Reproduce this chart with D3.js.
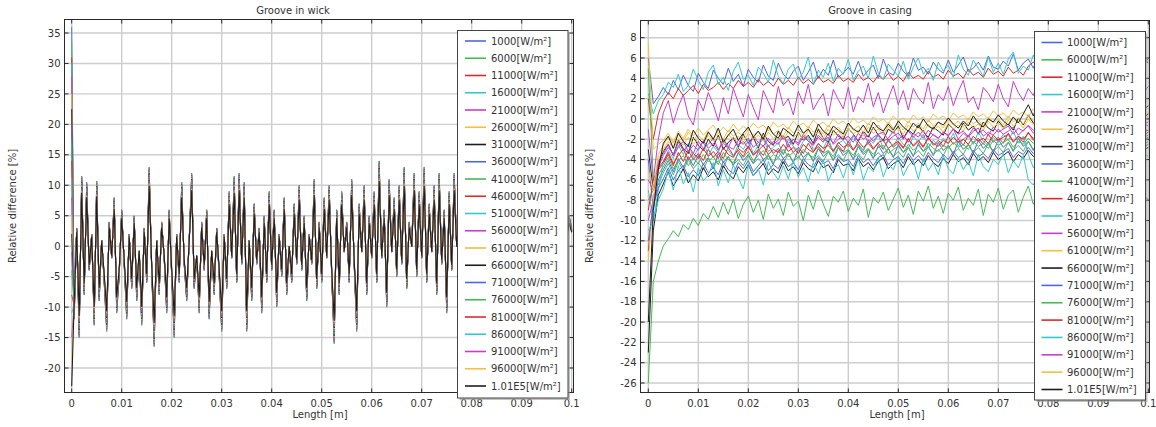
<!DOCTYPE html>
<html><head><meta charset="utf-8">
<script src="https://cdn.jsdelivr.net/npm/d3@7"></script>
<style>
body{margin:0;background:#fff;}
svg{display:block;font-family:"DejaVu Sans",sans-serif;}
</style></head><body>
<svg id="chart" width="1156" height="427"></svg>
<script>
// ---------- data ----------
const seriesLabels = ["1000[W/m²]","6000[W/m²]","11000[W/m²]","16000[W/m²]","21000[W/m²]","26000[W/m²]","31000[W/m²]","36000[W/m²]","41000[W/m²]","46000[W/m²]","51000[W/m²]","56000[W/m²]","61000[W/m²]","66000[W/m²]","71000[W/m²]","76000[W/m²]","81000[W/m²]","86000[W/m²]","91000[W/m²]","96000[W/m²]","1.01E5[W/m²]"];
const lengthTicks = [0,0.01,0.02,0.03,0.04,0.05,0.06,0.07,0.08,0.09,0.1];
const wickYTicks = [-20,-15,-10,-5,0,5,10,15,20,25,30,35];
const casingYTicks = [-26,-24,-22,-20,-18,-16,-14,-12,-10,-8,-6,-4,-2,0,2,4,6,8];

// Groove in wick: value at x=0 per series, spike profile (1000 W/m²) and per-series amplitude
const wickStart = [36,33.5,31,30,28,25,22.5,20,17,14,11,8,5,2,-1,-4,-8,-11,-15,-19,-23];
const wickFactor = [1.0,0.99,0.97,0.96,0.95,0.93,0.92,0.91,0.9,0.88,0.87,0.86,0.85,0.84,0.83,0.82,0.81,0.8,0.79,0.78,0.76];
const wickProfile = [
-12,3,-15,11.5,-8,10.5,-4,2,-13,10.7,
-9,1,-6,-14,4,-2,8,-11,-5,6,
-3,-12,2,-7,5,-9,-1,-13,3,-6,
13,-4,-16.5,1,-8,4,-2,-11,6,-5,
-15,2,-6,10.5,-3,-9,1,12,-7,-2,
-11,4,-4,6,-12,-1,-8,3,-5,-14,
2,-7,9,-2,11.5,-6,12,-3,10.5,-14,
1,-9,7,-3,3,-11,5,-6,9,-4,
6,-10,2,-5,8,-8,0,-6,7,-3,
10,-4,5,-9,2,-3,11,-7,4,-6,
8,-2,10,-5,-16,6,-8,9,-1,4,
-6,11,-3,-14,7,-1,10,-8,5,-2,
9,-6,14,-2,6,-10,11,-1,8,-5,
10,-3,13,-7,4,0,12,-5,9,-2,
13,-6,7,-1,10,-8,12,-3,6,-11,
9,-4,12,0,7,-7,10,-2,6,-5,
8,-3,11,-6,5,1,10,-4,7,-8,
11,-2,6,-5,9,-1,12,-6,4,-3,
9,-7,10,0,6,-4,11,-2,8,-6,
7,-3,9,-1,10,-5,6,2,5,3];

// Groove in casing: one value per 0.001 m
const casing1000 = [6,1.5,2.2,3.1,2.4,3.8,2.9,4.3,3.3,2.7, 4.5,3.6,3.0,4.8,4.0,3.4,5.0,3.7,4.4,3.2, 4.9,4.1,3.6,5.3,4.2,3.8,5.5,4.4,3.9,4.7, 5.2,3.8,4.6,5.6,4.0,4.9,4.3,5.8,4.1,4.5, 5.1,4.4,5.7,4.2,4.8,5.3,4.0,5.9,4.6,4.3, 5.5,4.7,4.2,6.0,4.8,5.1,4.4,5.6,4.9,4.5, 5.8,4.6,5.3,6.1,4.7,5.0,5.6,4.8,6.2,5.1, 4.9,5.7,5.2,6.4,4.8,5.5,5.9,5.0,6.3,5.3, 5.1,6.0,5.4,4.9,6.5,5.6,5.2,6.1,5.7,5.3, 6.4,5.5,5.9,5.2,6.6,5.7,5.4,6.2,5.8,5.6, 5.9];
const casing6000 = [-26,-16,-14,-12.5,-11.8,-11.0,-11.6,-10.4,-10.9,-9.8, -10.5,-9.3,-9.9,-8.6,-9.7,-8.2,-9.4,-7.9,-9.8,-8.4, -7.6,-9.2,-8.0,-9.9,-7.4,-8.8,-7.9,-9.5,-7.2,-8.6, -8.1,-10.0,-7.5,-8.9,-7.0,-8.4,-9.6,-7.6,-8.2,-7.1, -9.1,-7.8,-8.5,-6.9,-9.7,-7.7,-8.3,-7.2,-9.0,-7.9, -6.8,-8.7,-7.5,-9.4,-7.1,-8.1,-6.6,-8.8,-7.6,-9.3, -7.3,-8.0,-6.7,-9.0,-7.8,-8.5,-6.9,-9.5,-7.4,-8.2, -6.8,-8.9,-7.5,-7.0,-9.2,-7.7,-6.6,-8.4,-7.3,-9.0, -7.0,-8.6,-7.6,-6.9,-9.1,-7.4,-8.0,-6.7,-8.8,-7.5, -7.1,-9.0,-7.8,-6.8,-8.5,-7.3,-8.9,-7.0,-8.2,-7.6, -7.9];
const casing11000 = [2,-2,0.5,1.8,2.6,2.0,3.0,2.3,2.8,3.3, 2.5,3.4,2.8,3.1,3.6,2.9,3.5,3.0,3.8,3.2, 3.6,3.1,3.9,3.3,3.7,3.2,4.0,3.4,3.8,3.3, 4.1,3.5,3.9,3.4,4.2,3.6,3.9,3.5,4.3,3.7, 4.0,3.6,4.4,3.8,4.1,3.6,4.3,3.9,4.5,3.8, 4.2,3.7,4.6,4.0,4.3,3.9,4.7,4.1,4.4,3.9, 4.8,4.2,4.5,4.0,4.9,4.3,4.6,4.1,5.0,4.4, 4.7,4.2,5.1,4.5,4.8,4.3,5.2,5.6,5.0,5.4, 4.9,5.3,4.8,5.5,5.0,5.2,4.9,5.6,5.1,5.4, 5.0,5.7,5.2,5.5,5.1,5.8,5.3,5.6,5.2,5.9, 5.5];
const casing16000 = [2.5,0.5,1.8,2.4,3.6,3.1,4.4,2.7,3.3,4.9, 3.8,2.9,4.6,5.3,3.4,4.1,2.8,4.7,5.6,3.9, 4.3,3.3,5.1,4.5,3.6,5.8,4.2,3.5,4.9,5.4, 3.9,4.6,6.1,3.4,4.8,4.1,5.5,3.7,5.0,4.4, 5.9,3.8,4.7,5.2,4.0,6.2,4.5,3.9,5.4,4.8, 4.2,5.7,3.9,5.1,6.0,4.4,5.0,3.8,5.6,4.7, 5.3,4.1,6.3,4.9,4.3,5.8,5.0,4.2,6.1,4.6, 5.5,4.4,5.9,6.6,4.5,5.2,4.8,6.3,5.1,4.6, 6.0,5.3,4.7,6.5,5.0,5.7,4.9,6.8,5.2,5.6, 6.2,4.9,5.8,6.9,5.3,5.6,6.4,5.1,6.0,5.5, 5.7];
const casing21000 = [-1,-6,-2,0.6,1.8,-0.4,1.2,2.4,0.3,-0.6, 1.9,0.8,2.6,1.4,-0.2,2.1,0.5,3.0,1.6,0.2, 2.4,1.1,-0.1,2.8,1.7,0.6,3.2,1.3,2.0,0.4, 2.7,1.5,3.4,0.9,1.8,2.5,0.3,2.9,1.9,1.0, 3.1,0.7,2.2,1.6,3.5,1.2,2.6,0.6,2.0,3.3, 1.4,2.8,0.9,3.0,2.1,1.5,3.6,1.0,2.4,1.8, 3.2,1.3,2.7,3.8,1.6,2.2,0.9,3.1,2.5,1.7, 3.4,2.0,1.2,3.7,2.6,1.8,3.0,2.3,3.9,1.5, 2.9,3.5,1.9,2.6,4.0,2.2,3.1,1.8,3.6,2.7, 2.1,3.8,2.5,3.0,1.9,4.1,2.8,2.3,3.5,2.6, 3.2];
const casing26000 = [7.5,-3,-2.5,-2.1,-1.4,-2.3,-1.2,-1.9,-1.0,-1.7, -0.9,-1.6,-1.1,-0.6,-1.4,-0.8,-1.3,-0.5,-1.2,-0.7, -1.1,-0.4,-0.9,-0.6,-1.2,-0.3,-0.8,-0.5,-1.0,-0.2, -0.7,-0.4,-0.9,-0.1,-0.6,-0.3,-0.8,0.0,-0.5,-0.2, -0.7,0.1,-0.4,-0.1,-0.6,0.2,-0.3,0.0,-0.5,0.3, -0.2,0.1,-0.4,0.4,-0.1,0.2,-0.3,0.5,0.0,0.3, -0.2,0.6,0.1,0.4,-0.1,0.7,0.2,0.5,0.0,0.8, 0.3,0.6,0.1,0.9,0.4,0.7,0.2,1.0,0.5,0.8, 0.3,1.1,0.6,0.9,0.4,1.2,0.7,1.0,0.5,1.3, 0.8,1.1,0.6,1.4,0.9,1.2,0.7,1.5,1.0,1.3, 1.0];
const casing31000 = [-3,-7,-4.5,-3.2,-2.5,-3.6,-2.1,-2.9,-3.4,-1.8, -2.6,-3.1,-2.0,-2.7,-1.6,-3.0,-2.3,-1.9,-2.8,-1.5, -2.4,-1.8,-2.9,-1.4,-2.2,-2.6,-1.2,-2.0,-1.7,-2.5, -1.3,-2.1,-1.6,-2.4,-1.0,-1.9,-2.3,-1.1,-1.7,-2.0, -0.9,-1.5,-2.2,-1.2,-1.8,-0.8,-1.6,-2.1,-1.0,-1.4, -0.7,-1.9,-1.1,-1.5,-0.6,-1.3,-1.8,-0.8,-1.2,-1.6, -0.5,-1.0,-1.4,-0.4,-1.1,-0.7,-1.5,-0.3,-0.9,-1.2, -0.2,-0.8,-0.5,-1.1,0.1,-0.6,0.4,-0.4,-0.8,0.2, -0.3,0.5,-0.6,0.0,-0.2,0.6,-0.5,0.3,-0.1,0.7, -0.3,0.4,0.8,-0.2,0.2,0.9,0.0,0.5,1.0,0.1, 0.5];
const casing36000 = [-4,-9,-6,-5.0,-4.1,-5.2,-3.9,-4.8,-3.7,-4.6, -3.6,-4.5,-3.8,-4.9,-3.4,-4.3,-3.7,-4.6,-3.3,-4.1, -3.5,-4.4,-3.2,-4.0,-3.6,-4.5,-3.1,-3.9,-3.4,-4.3, -3.0,-3.8,-3.3,-4.2,-2.9,-3.7,-3.2,-4.1,-2.8,-3.6, -3.1,-4.0,-2.7,-3.5,-3.0,-3.9,-2.6,-3.4,-2.9,-3.8, -2.5,-3.3,-2.8,-3.7,-2.4,-3.2,-2.7,-3.6,-2.3,-3.1, -2.6,-3.5,-2.2,-3.0,-2.5,-3.4,-2.1,-2.9,-2.4,-3.3, -2.0,-2.8,-2.3,-3.2,-1.9,-2.7,-2.2,-3.1,-1.8,-2.6, -2.1,-3.0,-1.7,-2.5,-2.0,-2.9,-1.6,-2.4,-1.9,-2.8, -1.5,-2.3,-1.8,-2.7,-1.4,-2.2,-1.7,-2.6,-1.3,-2.1, -1.8];
const casing41000 = [5,-6,-6.5,-5.3,-4.4,-5.5,-4.2,-5.1,-4.0,-4.9, -4.3,-5.0,-3.9,-4.7,-4.1,-4.8,-3.7,-4.5,-4.0,-4.6, -3.6,-4.4,-3.9,-4.5,-3.5,-4.3,-3.8,-4.4,-3.4,-4.2, -3.7,-4.3,-3.3,-4.1,-3.6,-4.2,-3.2,-4.0,-3.5,-4.1, -3.1,-3.9,-3.4,-4.0,-3.0,-3.8,-3.3,-3.9,-2.9,-3.7, -3.2,-3.8,-2.8,-3.6,-3.1,-3.7,-2.7,-3.5,-3.0,-3.6, -2.6,-3.4,-2.9,-3.5,-2.5,-3.3,-2.8,-3.4,-2.4,-3.2, -2.7,-3.3,-2.3,-3.1,-2.6,-3.2,-2.2,-3.0,-2.5,-3.1, -2.1,-2.9,-2.4,-3.0,-2.0,-2.8,-2.3,-2.9,-1.9,-2.7, -2.2,-2.8,-1.8,-2.6,-2.1,-2.7,-1.7,-2.5,-2.0,-2.6, -2.2];
const casing46000 = [-13,-8,-5,-4.4,-3.5,-4.6,-3.3,-4.2,-3.1,-4.0, -3.4,-4.1,-3.0,-3.8,-3.2,-3.9,-2.8,-3.6,-3.1,-3.7, -2.7,-3.5,-3.0,-3.6,-2.6,-3.4,-2.9,-3.5,-2.5,-3.3, -2.8,-3.4,-2.4,-3.2,-2.7,-3.3,-2.3,-3.1,-2.6,-3.2, -2.2,-3.0,-2.5,-3.1,-2.1,-2.9,-2.4,-3.0,-2.0,-2.8, -2.3,-2.9,-1.9,-2.7,-2.2,-2.8,-1.8,-2.6,-2.1,-2.7, -1.7,-2.5,-2.0,-2.6,-1.6,-2.4,-1.9,-2.5,-1.5,-2.3, -1.8,-2.4,-1.4,-2.2,-1.7,-2.3,-1.3,-2.1,-1.6,-2.2, -1.2,-2.0,-1.5,-2.1,-1.1,-1.9,-1.4,-2.0,-1.0,-1.8, -1.3,-1.9,-0.9,-1.7,-1.2,-1.8,-0.8,-1.6,-1.1,-1.7, -1.3];
const casing51000 = [-7,-10,-7,-4.2,-3.1,-3.9,-2.6,-3.5,-2.4,-3.8, -2.9,-2.2,-3.6,-2.7,-3.3,-2.0,-3.1,-3.7,-2.5,-3.0, -2.1,-3.4,-2.6,-1.9,-3.2,-2.8,-2.3,-3.5,-2.0,-2.7, -3.1,-2.2,-1.8,-3.0,-2.5,-2.9,-1.9,-3.3,-2.4,-2.1, -2.8,-1.7,-2.6,-3.1,-2.0,-2.4,-1.6,-2.9,-2.2,-2.7, -1.8,-2.5,-2.9,-1.7,-2.3,-1.5,-2.8,-2.1,-2.6,-1.9, -2.4,-1.4,-2.7,-2.0,-1.6,-2.5,-1.3,-2.2,-2.6,-1.8, -2.3,-1.5,-2.1,-1.2,-2.4,-1.7,-3.5,-4.8,-3.9,-2.6, -1.9,-1.3,-2.2,-1.6,-1.1,-2.0,-1.5,-1.0,-1.9,-1.4, -1.2,-1.8,-0.9,-1.6,-1.3,-0.8,-1.7,-1.1,-1.4,-0.9, -1.2];
const casing56000 = [-10,-8,-4.8,-3.6,-2.8,-3.5,-2.3,-3.1,-2.6,-3.4, -2.2,-2.9,-2.5,-1.9,-3.0,-2.4,-2.8,-1.8,-2.6,-2.2, -2.9,-1.7,-2.3,-2.7,-1.9,-2.5,-2.1,-1.6,-2.8,-2.0, -2.4,-1.5,-2.2,-2.6,-1.8,-2.3,-1.4,-2.5,-2.0,-1.7, -2.3,-1.6,-2.1,-1.3,-2.4,-1.8,-1.5,-2.2,-1.9,-1.2, -2.0,-1.6,-2.3,-1.4,-1.8,-1.1,-2.1,-1.5,-1.9,-1.3, -1.7,-1.0,-2.0,-1.4,-1.8,-1.2,-0.9,-1.7,-1.3,-1.6, -1.0,-1.5,-1.2,-0.8,-1.6,-1.1,-0.7,-1.4,-1.0,-1.3, -0.8,-1.2,-0.6,-1.1,-0.9,-1.4,-0.7,-1.0,-0.5,-1.2, -0.8,-0.4,-1.0,-0.7,-1.1,-0.5,-0.9,-0.6,-1.0,-0.4, -0.7];
const casing61000 = [-14,-8,-4,-3.0,-2.2,-2.9,-2.0,-2.6,-1.8,-2.5, -1.9,-2.4,-1.6,-2.2,-1.8,-2.5,-1.5,-2.1,-1.7,-2.3, -1.4,-2.0,-1.6,-2.2,-1.3,-1.9,-1.5,-2.1,-1.2,-1.8, -1.4,-2.0,-1.1,-1.7,-1.3,-1.9,-1.0,-1.6,-1.2,-1.8, -0.9,-1.5,-1.1,-1.7,-0.8,-1.4,-1.0,-1.6,-0.7,-1.3, -0.9,-1.5,-0.6,-1.2,-0.8,-1.4,-0.5,-1.1,-0.7,-1.3, -0.4,-1.0,-0.6,-1.2,-0.3,-0.9,-0.5,-1.1,-0.2,-0.8, -0.4,-1.0,-0.1,-0.7,-0.3,-0.9,0.0,-0.6,-0.2,-0.8, 0.1,-0.5,-0.1,-0.7,0.2,-0.4,0.0,-0.6,0.3,-0.3, 0.1,-0.5,0.4,-0.2,0.2,-0.4,0.5,-0.1,0.3,-0.3, 0.2];
const casing66000 = [-23,-11,-7.5,-6.4,-5.2,-6.6,-5.8,-4.9,-6.3,-5.5, -6.1,-4.8,-5.7,-5.2,-6.0,-4.6,-5.4,-5.9,-4.7,-5.3, -4.5,-5.6,-5.0,-4.4,-5.5,-4.9,-5.3,-4.2,-5.1,-4.7, -5.4,-4.3,-4.9,-5.2,-4.1,-4.8,-4.5,-5.3,-4.0,-4.6, -4.4,-5.1,-3.9,-4.7,-4.3,-5.0,-4.2,-3.8,-4.9,-4.4, -4.1,-4.8,-3.7,-4.5,-4.0,-4.6,-3.6,-4.3,-4.7,-3.9, -4.4,-3.5,-4.2,-3.8,-4.5,-3.4,-4.1,-3.7,-4.3,-3.3, -4.0,-3.6,-3.2,-4.2,-3.5,-3.9,-3.1,-3.7,-3.4,-3.0, -3.8,-3.3,-3.6,-2.9,-3.5,-3.2,-3.7,-2.8,-3.4,-3.1, -2.7,-3.5,-3.0,-3.3,-2.6,-3.2,-2.9,-3.4,-2.5,-3.1, -2.8];
const casing71000 = [-12,-8.5,-6.8,-5.9,-4.8,-6.0,-5.1,-4.6,-5.7,-5.0, -5.6,-4.4,-5.3,-4.8,-5.5,-4.2,-5.0,-5.4,-4.3,-4.9, -4.1,-5.2,-4.6,-4.0,-5.1,-4.5,-4.9,-3.9,-4.7,-4.3, -5.0,-3.9,-4.5,-4.8,-3.8,-4.4,-4.1,-4.9,-3.7,-4.2, -4.0,-4.7,-3.6,-4.3,-3.9,-4.6,-3.8,-3.5,-4.5,-4.0, -3.7,-4.4,-3.4,-4.1,-3.6,-4.2,-3.3,-3.9,-4.3,-3.5, -4.0,-3.2,-3.8,-3.5,-4.1,-3.1,-3.7,-3.4,-3.9,-3.0, -3.6,-3.3,-2.9,-3.8,-3.2,-3.5,-2.8,-3.4,-3.1,-2.7, -3.5,-3.0,-3.3,-2.6,-3.2,-2.9,-3.4,-2.5,-3.1,-2.8, -2.4,-3.2,-2.7,-3.0,-2.3,-2.9,-2.6,-3.1,-2.2,-2.8, -2.5];
const casing76000 = [-8,-7,-5.5,-4.7,-3.8,-4.9,-4.1,-3.6,-4.6,-3.9, -4.4,-3.5,-4.2,-3.7,-4.5,-3.3,-4.0,-4.3,-3.4,-3.8, -3.2,-4.1,-3.6,-3.1,-4.0,-3.5,-3.8,-3.0,-3.7,-3.3, -3.9,-3.0,-3.5,-3.8,-2.9,-3.4,-3.1,-3.7,-2.8,-3.3, -3.0,-3.6,-2.7,-3.3,-2.9,-3.5,-2.8,-2.6,-3.4,-3.0, -2.7,-3.3,-2.5,-3.1,-2.6,-3.2,-2.4,-2.9,-3.2,-2.6, -2.9,-2.3,-2.8,-2.5,-3.0,-2.2,-2.7,-2.4,-2.9,-2.1, -2.6,-2.3,-2.0,-2.8,-2.2,-2.5,-1.9,-2.4,-2.1,-1.8, -2.5,-2.0,-2.3,-1.7,-2.2,-1.9,-2.4,-1.6,-2.1,-1.8, -1.5,-2.2,-1.7,-2.0,-1.4,-1.9,-1.6,-2.1,-1.3,-1.8, -1.6];
const casing81000 = [-9,-6,-4.8,-4.2,-3.3,-4.4,-3.6,-3.0,-4.0,-3.4, -3.9,-2.9,-3.7,-3.2,-3.9,-2.8,-3.5,-3.8,-2.9,-3.3, -2.7,-3.6,-3.1,-2.6,-3.5,-3.0,-3.3,-2.5,-3.2,-2.8, -3.4,-2.5,-3.0,-3.3,-2.4,-2.9,-2.6,-3.2,-2.3,-2.8, -2.5,-3.1,-2.2,-2.8,-2.4,-3.0,-2.3,-2.1,-2.9,-2.5, -2.2,-2.8,-2.0,-2.6,-2.1,-2.7,-1.9,-2.4,-2.7,-2.1, -2.4,-1.8,-2.3,-2.0,-2.5,-1.7,-2.2,-1.9,-2.4,-1.6, -2.1,-1.8,-1.5,-2.3,-1.7,-2.0,-1.4,-1.9,-1.6,-1.3, -2.0,-1.5,-1.8,-1.2,-1.7,-1.4,-1.9,-1.1,-1.6,-1.3, -1.0,-1.7,-1.2,-1.5,-0.9,-1.4,-1.1,-1.6,-0.8,-1.3, -1.1];
const casing86000 = [-11,-10,-8,-6.9,-5.0,-7.0,-4.6,-6.4,-5.3,-7.2, -4.8,-6.1,-5.5,-4.3,-6.6,-5.0,-6.3,-4.5,-5.8,-6.9, -4.4,-5.6,-4.9,-6.5,-4.2,-5.3,-6.0,-4.6,-5.9,-4.1, -5.7,-4.8,-6.2,-4.3,-5.4,-4.0,-6.1,-5.0,-4.5,-5.8, -4.2,-5.5,-3.9,-6.0,-4.7,-5.2,-3.8,-5.7,-4.4,-5.0, -3.7,-5.6,-4.6,-4.1,-5.9,-3.9,-5.1,-4.3,-5.5,-3.6, -4.9,-5.4,-3.8,-5.0,-4.2,-5.6,-3.5,-4.7,-5.2,-4.0, -4.5,-3.4,-5.3,-4.1,-4.8,-3.6,-6.0,-6.5,-5.4,-4.2, -3.9,-4.7,-3.3,-4.4,-5.0,-3.7,-4.3,-3.2,-4.8,-3.8, -4.1,-3.1,-4.6,-3.6,-4.0,-3.0,-4.5,-3.5,-3.9,-3.3, -3.7];
const casing91000 = [-6,-7,-4.2,-3.4,-2.5,-3.6,-2.8,-2.2,-3.2,-2.6, -3.1,-2.1,-2.9,-2.4,-3.1,-2.0,-2.7,-3.0,-2.1,-2.5, -1.9,-2.8,-2.3,-1.8,-2.7,-2.2,-2.5,-1.7,-2.4,-2.0, -2.6,-1.7,-2.2,-2.5,-1.6,-2.1,-1.8,-2.4,-1.5,-2.0, -1.7,-2.3,-1.4,-2.0,-1.6,-2.2,-1.5,-1.3,-2.1,-1.7, -1.4,-2.0,-1.2,-1.8,-1.3,-1.9,-1.1,-1.6,-1.9,-1.3, -1.6,-1.0,-1.5,-1.2,-1.7,-0.9,-1.4,-1.1,-1.6,-0.8, -1.3,-1.0,-0.7,-1.5,-0.9,-1.2,-0.6,-1.1,-0.8,-0.5, -1.2,-0.7,-1.0,-0.4,-0.9,-0.6,-1.1,-0.3,-0.8,-0.5, -0.2,-0.9,-0.4,-0.7,-0.1,-0.6,-0.3,-0.8,0.0,-0.5, -0.3];
const casing96000 = [-5,-7,-3.5,-2.6,-1.7,-2.4,-1.5,-2.2,-1.3,-2.0, -1.6,-2.1,-1.2,-1.9,-1.4,-2.0,-1.1,-1.7,-1.3,-1.8, -1.0,-1.6,-1.2,-1.8,-0.9,-1.5,-1.1,-1.7,-0.8,-1.4, -1.0,-1.6,-0.7,-1.3,-0.9,-1.5,-0.6,-1.2,-0.8,-1.4, -0.5,-1.1,-0.7,-1.3,-0.4,-1.0,-0.6,-1.2,-0.3,-0.9, -0.5,-1.1,-0.2,-0.8,-0.4,-1.0,-0.1,-0.7,-0.3,-0.9, 0.0,-0.6,-0.2,-0.8,0.1,-0.5,-0.1,-0.7,0.2,-0.4, 0.0,-0.6,0.3,-0.3,0.1,-0.5,0.4,-0.2,0.2,-0.4, 0.5,-0.1,0.3,-0.3,0.6,0.0,0.4,-0.2,0.7,0.1, 0.5,-0.1,0.8,0.2,0.6,0.0,0.9,0.3,0.7,0.1, 0.6];
const casing101000 = [-20,-9,-5,-2.4,-1.7,-2.9,-1.4,-2.2,-2.7,-1.1, -1.9,-2.4,-1.3,-2.0,-0.9,-2.3,-1.6,-1.0,-2.1,-1.4, -0.8,-1.8,-1.2,-2.0,-0.7,-1.5,-1.9,-0.9,-1.3,-1.7, -0.6,-1.4,-1.0,-1.8,-0.5,-1.2,-1.6,-0.7,-1.1,-1.5, -0.4,-1.0,-1.3,-0.6,-1.4,-0.3,-0.9,-1.2,-0.5,-1.1, -0.2,-0.8,-1.2,-0.4,-0.9,0.0,-0.7,-1.0,-0.3,-0.6, 0.1,-0.5,-0.9,-0.2,-0.7,0.3,-0.4,-0.8,0.0,-0.3, 0.4,-0.2,-0.6,0.2,-0.4,0.5,1.4,0.3,1.7,0.6, 1.1,0.4,1.5,0.8,1.2,0.3,1.8,0.7,1.3,1.0, 1.9,0.6,1.4,1.1,2.0,0.8,1.5,1.2,2.1,0.9, 1.3];
const casingSeries = [casing1000,casing6000,casing11000,casing16000,casing21000,casing26000,casing31000,casing36000,casing41000,casing46000,casing51000,casing56000,casing61000,casing66000,casing71000,casing76000,casing81000,casing86000,casing91000,casing96000,casing101000];

// ---------- style ----------
const palette = ["#4f66e3","#46b956","#dd2a2a","#33c9c9","#c63fc6","#f2c040","#1e1e1e"];
const colorOf = i => palette[i % palette.length];

const svg = d3.select("#chart");
const textCol = "#333";

function drawPanel(o) {
  const g = svg.append("g");
  const x = d3.scaleLinear().domain([0, 0.1]).range(o.xr);
  const y = d3.scaleLinear().domain(o.yd).range(o.yr);
  const clipId = "clip" + o.id;
  svg.append("clipPath").attr("id", clipId).append("rect")
    .attr("x", o.f.l).attr("y", o.f.t).attr("width", o.f.r - o.f.l).attr("height", o.f.b - o.f.t);

  // grid
  g.append("g").selectAll("line").data(o.xt).join("line")
    .attr("x1", d => x(d)).attr("x2", d => x(d)).attr("y1", o.f.t).attr("y2", o.f.b)
    .attr("stroke", "#cdcdcd").attr("stroke-width", 1.4);
  g.append("g").selectAll("line").data(o.yt).join("line")
    .attr("y1", d => y(d)).attr("y2", d => y(d)).attr("x1", o.f.l).attr("x2", o.f.r)
    .attr("stroke", "#cdcdcd").attr("stroke-width", 1.4);

  // data
  const line = d3.line().x(d => x(d[0])).y(d => y(d[1]));
  const lg = g.append("g").attr("clip-path", `url(#${clipId})`);
  const n = o.series.length;
  o.series.forEach((s, k) => {
    lg.append("path").datum(s).attr("d", line).attr("fill", "none")
      .attr("stroke", colorOf(k)).attr("stroke-width", k === n - 1 ? o.lastW : o.w)
      .attr("stroke-linejoin", "round");
  });

  // frame
  g.append("rect").attr("x", o.f.l).attr("y", o.f.t).attr("width", o.f.r - o.f.l).attr("height", o.f.b - o.f.t)
    .attr("fill", "none").attr("stroke", "#2a2a2a").attr("stroke-width", 1);
  // inner ticks
  const tl = 4;
  g.append("g").selectAll("line").data(o.xt).join("line")
    .attr("x1", d => x(d)).attr("x2", d => x(d)).attr("y1", o.f.t).attr("y2", o.f.t + tl).attr("stroke", "#2a2a2a");
  g.append("g").selectAll("line").data(o.xt).join("line")
    .attr("x1", d => x(d)).attr("x2", d => x(d)).attr("y1", o.f.b).attr("y2", o.f.b - tl).attr("stroke", "#2a2a2a");
  g.append("g").selectAll("line").data(o.yt).join("line")
    .attr("y1", d => y(d)).attr("y2", d => y(d)).attr("x1", o.f.l).attr("x2", o.f.l + tl).attr("stroke", "#2a2a2a");
  g.append("g").selectAll("line").data(o.yt).join("line")
    .attr("y1", d => y(d)).attr("y2", d => y(d)).attr("x1", o.f.r).attr("x2", o.f.r - tl).attr("stroke", "#2a2a2a");

  // tick labels
  g.append("g").selectAll("text").data(o.xt).join("text")
    .attr("x", d => x(d)).attr("y", 407).attr("text-anchor", "middle")
    .attr("font-size", 10).attr("fill", textCol).text(d => d3.format("")(d));
  g.append("g").selectAll("text").data(o.yt).join("text")
    .attr("x", o.f.l - 4).attr("y", d => y(d) + 3.6).attr("text-anchor", "end")
    .attr("font-size", 10).attr("fill", textCol).text(d => d);

  // titles
  g.append("text").attr("x", o.titleX).attr("y", 14).attr("text-anchor", "middle")
    .attr("font-size", 10).attr("fill", textCol).text(o.title);
  g.append("text").attr("x", o.xlabX).attr("y", 418).attr("text-anchor", "middle")
    .attr("font-size", 10).attr("fill", textCol).text("Length [m]");
  g.append("text").attr("transform", `translate(${o.ylabX},206) rotate(-90)`).attr("text-anchor", "middle")
    .attr("font-size", 10).attr("fill", textCol).text("Relative difference [%]");

  // legend
  const L = o.leg;
  g.append("rect").attr("x", L.x + 2).attr("y", L.y + 2).attr("width", L.w).attr("height", L.h)
    .attr("fill", "#9a9a9a").attr("opacity", 0.6);
  g.append("rect").attr("x", L.x).attr("y", L.y).attr("width", L.w).attr("height", L.h)
    .attr("fill", "#fff").attr("stroke", "#444").attr("stroke-width", 1);
  const items = g.append("g").selectAll("g").data(seriesLabels).join("g")
    .attr("transform", (d, i) => `translate(0,${L.y0 + i * L.dy})`);
  items.append("line").attr("x1", L.lx0).attr("x2", L.lx1).attr("y1", 0).attr("y2", 0)
    .attr("stroke", (d, i) => colorOf(i)).attr("stroke-width", 1.6);
  items.append("text").attr("x", L.tx).attr("y", 3.6).attr("font-size", 10).attr("fill", textCol).text(d => d);
}

// Groove in wick series
const wickX = d3.range(wickProfile.length + 1).map(i => i * 0.0005);
const wickSeries = wickStart.map((s, k) =>
  [[wickX[0], s]].concat(wickProfile.map((v, i) => [wickX[i + 1], v * wickFactor[k]])));
const casingX = d3.range(101).map(i => i * 0.001);
const casingPts = casingSeries.map(s => s.map((v, i) => [casingX[i], v]));

drawPanel({
  id: "w", title: "Groove in wick", titleX: 293, xlabX: 320, ylabX: 16, w: 0.9, lastW: 1.1,
  f: {l: 64.5, r: 573.5, t: 19.5, b: 392.5},
  xr: [71.7, 571.7], yd: [-20, 35], yr: [368, 33],
  xt: lengthTicks, yt: wickYTicks, series: wickSeries,
  leg: {x: 457.5, y: 30.5, w: 110.5, h: 367.5, y0: 41, dy: 17.25, lx0: 465, lx1: 486, tx: 491}
});
drawPanel({
  id: "c", title: "Groove in casing", titleX: 870, xlabX: 897, ylabX: 593, w: 1, lastW: 1,
  f: {l: 640.5, r: 1149.5, t: 20.5, b: 392.5},
  xr: [648.3, 1148.3], yd: [-26, 8], yr: [383, 37.7],
  xt: lengthTicks, yt: casingYTicks, series: casingPts,
  leg: {x: 1034.5, y: 31.5, w: 111, h: 368.5, y0: 42.5, dy: 17.35, lx0: 1041.5, lx1: 1062.5, tx: 1067}
});
</script>
</body></html>
